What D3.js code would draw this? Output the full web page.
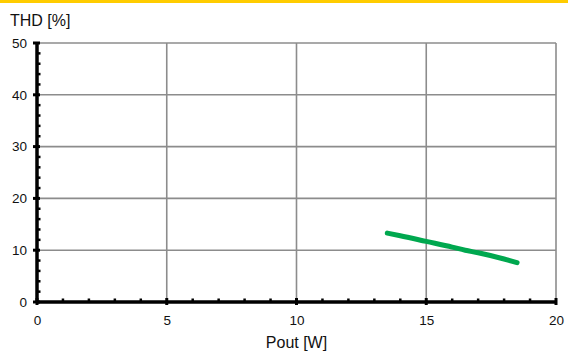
<!DOCTYPE html>
<html><head><meta charset="utf-8">
<script src="https://cdn.jsdelivr.net/npm/d3@7"></script>
<style>body{margin:0;background:#fff}svg{display:block;font-family:"Liberation Sans",Arial,sans-serif}</style>
</head><body>
<svg id="c" width="568" height="354"></svg>
<script>
const xTicks = [0, 5, 10, 15, 20];
const yTicks = [0, 10, 20, 30, 40, 50];
const poutW = [13.5, 14, 15, 16, 16.5, 17, 18, 18.5];
const thdPct = [13.3, 12.8, 11.7, 10.6, 10.0, 9.5, 8.3, 7.6];

const svg = d3.select("#c");
const x = d3.scaleLinear().domain([0, 20]).range([37, 556]);
const y = d3.scaleLinear().domain([0, 50]).range([302, 43]);

// top yellow bar
svg.append("rect").attr("x", 0).attr("y", 0).attr("width", 568).attr("height", 3).attr("fill", "#FFCC00");

// grid
svg.append("g").selectAll("line").data(xTicks.slice(1)).join("line")
  .attr("x1", d => x(d)).attr("x2", d => x(d)).attr("y1", y(50)).attr("y2", y(0))
  .attr("stroke", "#8c8c8c").attr("stroke-width", 1.6);
svg.append("g").selectAll("line").data(yTicks.slice(1)).join("line")
  .attr("x1", x(0)).attr("x2", x(20)).attr("y1", d => y(d)).attr("y2", d => y(d))
  .attr("stroke", "#8c8c8c").attr("stroke-width", 1.6);

// axes
const xAxis = svg.append("g").attr("transform", `translate(0,${y(0)})`)
  .call(d3.axisBottom(x).tickValues(xTicks).tickSize(0).tickPadding(13));
xAxis.select(".domain").remove();
xAxis.selectAll("text").attr("font-size", 13.5).attr("fill", "#111").attr("font-family", "Liberation Sans, Arial, sans-serif");
const yAxis = svg.append("g").attr("transform", `translate(${x(0)},0)`)
  .call(d3.axisLeft(y).tickValues(yTicks).tickSize(0).tickPadding(10));
yAxis.select(".domain").remove();
yAxis.selectAll("text").attr("font-size", 13.5).attr("fill", "#111").attr("font-family", "Liberation Sans, Arial, sans-serif");

// minor ticks
const xMinor = d3.range(0, 21, 1);
svg.append("g").selectAll("line").data(xMinor).join("line")
  .attr("x1", d => x(d)).attr("x2", d => x(d))
  .attr("y1", d => d % 5 === 0 ? y(0) - 4 : y(0) - 3.5).attr("y2", d => d % 5 === 0 ? y(0) + 3 : y(0))
  .attr("stroke", "#000").attr("stroke-width", d => d % 5 === 0 ? 3 : 2.5);
const yMinor = d3.range(0, 51, 2);
svg.append("g").selectAll("line").data(yMinor).join("line")
  .attr("x1", d => d % 10 === 0 ? x(0) - 4 : x(0)).attr("x2", d => d % 10 === 0 ? x(0) + 3 : x(0) + 3.5)
  .attr("y1", d => y(d)).attr("y2", d => y(d))
  .attr("stroke", "#000").attr("stroke-width", d => d % 10 === 0 ? 3 : 2.5);

svg.append("line").attr("x1", x(0)).attr("x2", x(20)).attr("y1", y(0)).attr("y2", y(0))
  .attr("stroke", "#000").attr("stroke-width", 3.5);
svg.append("line").attr("x1", x(0)).attr("x2", x(0)).attr("y1", y(0)).attr("y2", y(50))
  .attr("stroke", "#000").attr("stroke-width", 3.5);

// data line
svg.append("path").datum(poutW.map((d, i) => [d, thdPct[i]]))
  .attr("d", d3.line().x(d => x(d[0])).y(d => y(d[1])).curve(d3.curveMonotoneX))
  .attr("fill", "none").attr("stroke", "#00A84F").attr("stroke-width", 5).attr("stroke-linecap", "round");

// titles
svg.append("text").attr("x", 10).attr("y", 26).attr("font-size", 16).attr("fill", "#111").text("THD [%]");
svg.append("text").attr("x", x(10)).attr("y", 348).attr("text-anchor", "middle").attr("font-size", 16).attr("fill", "#111").text("Pout [W]");
</script>
</body></html>
